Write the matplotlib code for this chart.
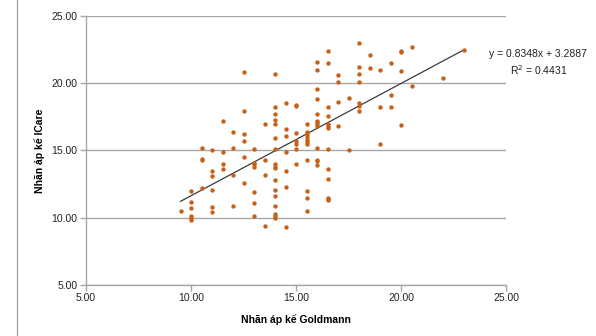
import numpy as np
import matplotlib
matplotlib.use("Agg")
import matplotlib.pyplot as plt
from matplotlib.lines import Line2D

plt.rcParams['font.family'] = ['Liberation Sans', 'DejaVu Sans']

# Goldmann readings (x) and ICare readings (y)
goldmann = [9.5,
            10, 10, 10, 10, 10, 10,
            10.5, 10.5, 10.5, 10.5,
            11, 11, 11, 11, 11, 11,
            11.5, 11.5, 11.5, 11.5,
            12, 12, 12, 12,
            12.5, 12.5, 12.5, 12.5, 12.5, 12.5,
            13, 13, 13, 13, 13, 13, 13,
            13.5, 13.5, 13.5, 13.5,
            14, 14, 14, 14, 14, 14, 14, 14, 14, 14, 14, 14, 14, 14, 14, 14, 14,
            14.5, 14.5, 14.5, 14.5, 14.5, 14.5, 14.5,
            15, 15, 15, 15, 15, 15, 15,
            15.5, 15.5, 15.5, 15.5, 15.5, 15.5, 15.5, 15.5, 15.5, 15.5, 15.5,
            16, 16, 16, 16, 16, 16, 16, 16, 16, 16, 16, 16, 16,
            16.5, 16.5, 16.5, 16.5, 16.5, 16.5, 16.5, 16.5, 16.5, 16.5, 16.5, 16.5, 16.5,
            17, 17, 17, 17,
            17.5, 17.5,
            18, 18, 18, 18, 18, 18, 18,
            18.5, 18.5,
            19, 19, 19,
            19.5, 19.5, 19.5,
            20, 20, 20, 20,
            20.5, 20.5,
            22,
            23]
icare = [10.5,
         12.0, 11.2, 10.7, 10.1, 10.0, 9.8,
         15.2, 14.4, 14.3, 12.2,
         15.0, 13.5, 13.1, 12.1, 10.8, 10.4,
         17.2, 14.9, 14.0, 13.6,
         16.4, 15.2, 13.2, 10.9,
         20.8, 17.9, 16.2, 15.7, 14.5, 12.6,
         15.1, 14.1, 14.0, 13.8, 11.9, 11.1, 10.1,
         17.0, 14.3, 13.2, 9.4,
         20.7, 18.2, 17.7, 17.3, 17.0, 15.9, 15.1, 14.0, 13.8, 13.7, 12.8, 12.1, 11.6, 10.9, 10.3, 10.1, 10.0,
         18.5, 16.6, 16.1, 14.9, 13.5, 12.3, 9.3,
         18.4, 18.3, 16.3, 15.7, 15.5, 15.1, 14.0,
         17.0, 16.4, 16.2, 16.0, 15.8, 15.6, 15.5, 14.3, 12.0, 11.5, 10.5,
         21.6, 21.0, 19.6, 18.8, 17.7, 17.2, 17.1, 17.0, 16.8, 15.2, 14.3, 14.2, 13.9,
         22.4, 21.5, 18.2, 17.6, 17.0, 16.8, 16.7, 15.1, 13.6, 12.9, 11.5, 11.4, 11.3,
         20.6, 20.1, 18.6, 16.8,
         18.9, 15.0,
         23.0, 21.2, 20.7, 20.1, 18.5, 18.3, 17.9,
         22.1, 21.1,
         21.0, 18.2, 15.5,
         21.5, 19.1, 18.2,
         22.4, 22.3, 20.9, 16.9,
         22.7, 19.8,
         20.4,
         22.5]

# linear trendline as printed on the chart
slope = 0.8348
intercept = 3.2887
r2 = 0.4431

xticks = [5, 10, 15, 20, 25]
yticks = [5, 10, 15, 20, 25]

fig = plt.figure(figsize=(5.96, 3.36), dpi=100)
ax = fig.add_axes([86/596, 1-285/336, 420/596, 269/336])

ax.scatter(goldmann, icare, s=10, color='#C8601A', zorder=3, linewidths=0)

xs = np.array([min(goldmann), max(goldmann)])
ax.plot(xs, slope*xs + intercept, color='#3a3a3a', lw=0.9, zorder=2)

ax.set_xlim(5, 25)
ax.set_ylim(5, 25)
ax.set_xticks(xticks)
ax.set_yticks(yticks)
ax.set_xticklabels(['%.2f' % v for v in xticks], fontsize=7.5, color='#222222')
ax.set_yticklabels(['%.2f' % v for v in yticks], fontsize=7.5, color='#222222')
ax.yaxis.grid(True, color='#a6a6a6', lw=1.0)
ax.set_axisbelow(True)
for s in ['top', 'right']:
    ax.spines[s].set_visible(False)
for s in ['left', 'bottom']:
    ax.spines[s].set_color('#a6a6a6')
    ax.spines[s].set_linewidth(1.0)
ax.tick_params(axis='both', length=4, color='#a6a6a6', width=1.0, pad=2)

ax.set_xlabel('Nhãn áp kế Goldmann', fontsize=7.5, fontweight='bold', labelpad=8)
ax.set_ylabel('Nhãn áp kế ICare', fontsize=7.5, fontweight='bold', labelpad=5)

fig.text(538/596, 1-54/336, 'y = %.4fx + %.4f' % (slope, intercept),
         fontsize=7.5, ha='center', va='center', color='#222222')
fig.text(539/596, 1-70/336, 'R$^2$ = %.4f' % r2,
         fontsize=7.5, ha='center', va='center', color='#222222')

# border line at the left edge of the screenshot
fig.add_artist(Line2D([16.5/596, 16.5/596], [0, 1], transform=fig.transFigure,
                      color='#a6a6a6', lw=1.0))

fig.savefig('out.png', dpi=100)
